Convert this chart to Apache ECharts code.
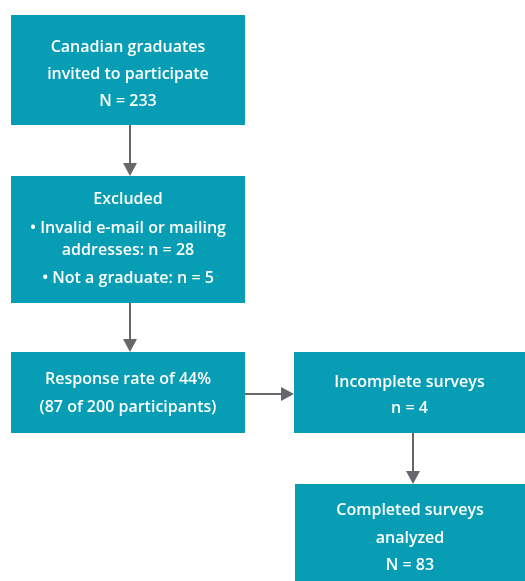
<!DOCTYPE html>
<html>
<head>
<meta charset="utf-8">
<script src="https://cdn.jsdelivr.net/npm/echarts@6/dist/echarts.min.js"></script>
<style>
  html, body { margin: 0; padding: 0; background: #fff; }
  #chart { width: 525px; height: 581px; }
</style>
</head>
<body>
<div id="chart"></div>
<script>
// box texts (one array of lines per box)
var boxLabels = [
  ['Canadian graduates', 'invited to participate', 'N = 233'],
  ['Excluded', '\u2022 Invalid e-mail or mailing', 'addresses: n = 28', '\u2022 Not a graduate: n = 5'],
  ['Response rate of 44%', '(87 of 200 participants)'],
  ['Incomplete surveys', 'n = 4'],
  ['Completed surveys', 'analyzed', 'N = 83']
];
// connections between boxes: [from, to]
var links = [[0, 1], [1, 2], [2, 3], [3, 4]];

// layout (page pixels): box rect + y of each text line
var boxLayout = [
  { x0: 11, y0: 15, x1: 245, y1: 125, lineY: [47, 74, 101] },
  { x0: 11, y0: 176, x1: 245, y1: 303, lineY: [199, 228, 250, 278] },
  { x0: 11, y0: 352, x1: 245, y1: 433, lineY: [379, 407] },
  { x0: 294, y0: 352, x1: 525, y1: 433, lineY: [382, 408] },
  { x0: 295, y0: 484, x1: 525, y1: 581, lineY: [510, 538, 565] }
];
var arrowLayout = [
  [130, 125, 130, 176],
  [130, 303, 130, 352],
  [245, 394, 294, 394],
  [413, 433, 413, 484]
];

var TEAL = '#079db4';
var GREY = '#67676b';
var FONT = 'Open Sans';

var chart = echarts.init(document.getElementById('chart'));

var boxData = boxLayout.map(function (b, i) {
  return [b.x0, b.y0, b.x1, b.y1, i];
});
var arrowData = links.map(function (l, i) {
  return arrowLayout[i].concat([l[0], l[1]]);
});

function renderBox(params, api) {
  var i = api.value(4);
  var b = boxLayout[i];
  var p0 = api.coord([api.value(0), api.value(1)]);
  var p1 = api.coord([api.value(2), api.value(3)]);
  var cx = (p0[0] + p1[0]) / 2;
  var children = [{
    type: 'rect',
    shape: { x: p0[0], y: p0[1], width: p1[0] - p0[0], height: p1[1] - p0[1] },
    style: { fill: TEAL }
  }];
  boxLabels[i].forEach(function (line, k) {
    var ly = api.coord([0, b.lineY[k]])[1];
    children.push({
      type: 'text',
      x: cx,
      y: ly,
      style: {
        text: line,
        fill: '#fff',
        font: '600 16px "' + FONT + '"',
        align: 'center',
        verticalAlign: 'middle'
      }
    });
  });
  return { type: 'group', children: children };
}

function renderArrow(params, api) {
  var a = api.coord([api.value(0), api.value(1)]);
  var b = api.coord([api.value(2), api.value(3)]);
  var dx = b[0] - a[0], dy = b[1] - a[1];
  var len = Math.sqrt(dx * dx + dy * dy);
  var ux = dx / len, uy = dy / len;
  var headL = 13, headW = 7;
  var bx = b[0] - ux * headL, by = b[1] - uy * headL;
  return {
    type: 'group',
    children: [{
      type: 'line',
      shape: { x1: a[0], y1: a[1], x2: bx, y2: by },
      style: { stroke: GREY, lineWidth: 2 }
    }, {
      type: 'polygon',
      shape: { points: [[b[0], b[1]], [bx - uy * headW, by + ux * headW], [bx + uy * headW, by - ux * headW]] },
      style: { fill: GREY }
    }]
  };
}

chart.setOption({
  animation: false,
  grid: { left: 0, right: 0, top: 0, bottom: 0 },
  xAxis: { type: 'value', min: 0, max: 525, show: false },
  yAxis: { type: 'value', min: 0, max: 581, inverse: true, show: false },
  series: [{
    type: 'custom',
    renderItem: renderArrow,
    data: arrowData,
    silent: true
  }, {
    type: 'custom',
    renderItem: renderBox,
    data: boxData,
    silent: true
  }]
});
</script>
</body>
</html>
